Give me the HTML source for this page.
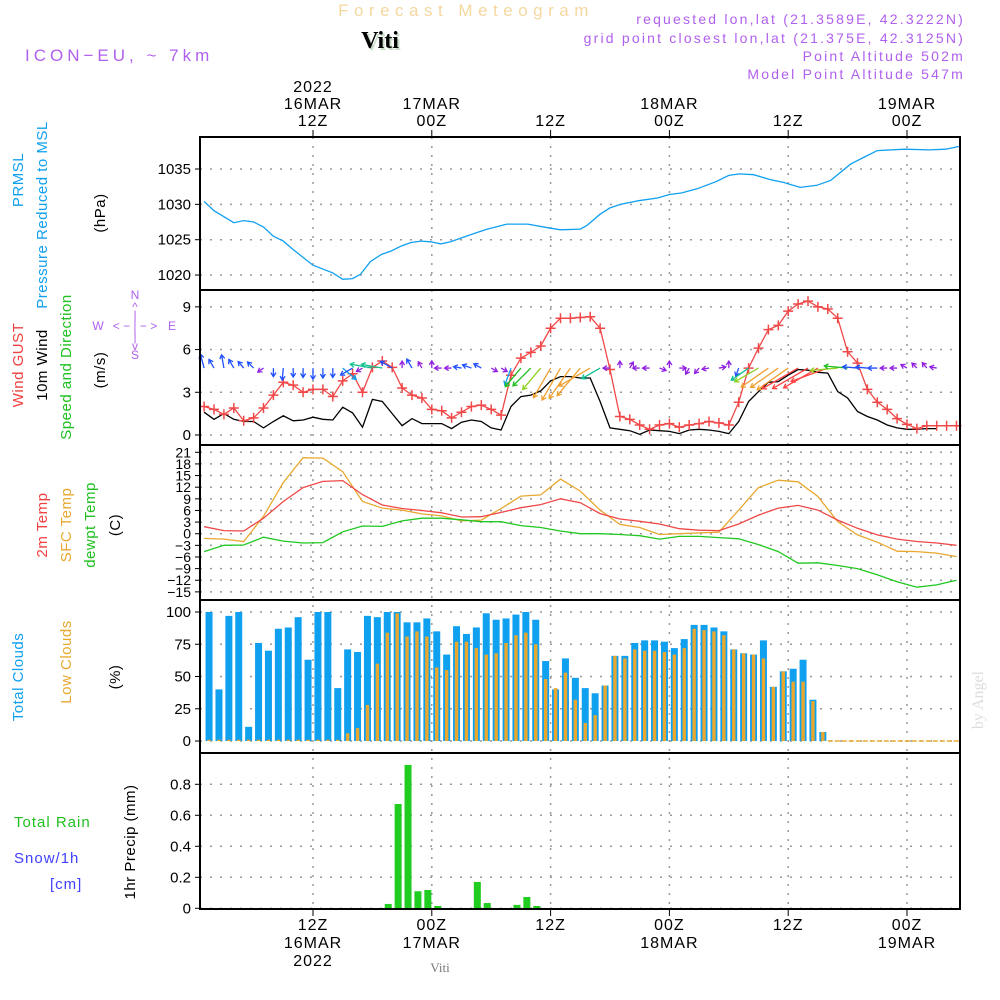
<!DOCTYPE html>
<html><head><meta charset="utf-8"><style>
html,body{margin:0;padding:0;background:#fff;}
svg{display:block;font-family:"Liberation Sans",sans-serif;}
</style></head><body>
<svg id="chart" width="1000" height="1000" viewBox="0 0 1000 1000" xmlns="http://www.w3.org/2000/svg">
<g id="grid"></g>
<g id="marks"></g>
<g id="frames"></g>
<g id="labels">
<text x="466" y="16" text-anchor="middle" font-size="17" fill="#f5d7a0" letter-spacing="5.5">Forecast Meteogram</text>
<text x="382" y="50" text-anchor="middle" font-size="24" font-weight="bold" font-family="Liberation Serif,serif" fill="#c8dcc8">Viti</text>
<text x="380" y="48" text-anchor="middle" font-size="24" font-weight="bold" font-family="Liberation Serif,serif" fill="#000">Viti</text>
<text x="25" y="61" font-size="17" fill="#b060ee" letter-spacing="4">ICON−EU, ~ 7km</text>
<g font-size="14" fill="#b060ee" text-anchor="end" letter-spacing="2.2">
<text x="965" y="24">requested lon,lat (21.3589E, 42.3222N)</text>
<text x="965" y="43">grid point closest lon,lat (21.375E, 42.3125N)</text>
<text x="965" y="61">Point Altitude 502m</text>
<text x="965" y="79">Model Point Altitude 547m</text>
</g>
<text x="440" y="972" text-anchor="middle" font-size="13" font-family="Liberation Serif,serif" fill="#777">Viti</text>
<text transform="translate(983,700) rotate(-90)" text-anchor="middle" font-size="16" font-family="Liberation Serif,serif" fill="#ddd">by Angel</text>
<g font-size="15" letter-spacing="0.5">
<text transform="translate(23,180) rotate(-90)" text-anchor="middle" fill="#10a0f0">PRMSL</text>
<text transform="translate(47,215) rotate(-90)" text-anchor="middle" fill="#10a0f0">Pressure Reduced to MSL</text>
<text transform="translate(105,213) rotate(-90)" text-anchor="middle" fill="#000">(hPa)</text>
<text transform="translate(23,365) rotate(-90)" text-anchor="middle" fill="#f04040">Wind GUST</text>
<text transform="translate(47,365) rotate(-90)" text-anchor="middle" fill="#000">10m Wind</text>
<text transform="translate(71,367) rotate(-90)" text-anchor="middle" fill="#20c020">Speed and Direction</text>
<text transform="translate(105,370) rotate(-90)" text-anchor="middle" fill="#000">(m/s)</text>
<text transform="translate(47,525) rotate(-90)" text-anchor="middle" fill="#f04040">2m Temp</text>
<text transform="translate(71,525) rotate(-90)" text-anchor="middle" fill="#e8a830">SFC Temp</text>
<text transform="translate(95,525) rotate(-90)" text-anchor="middle" fill="#20c020">dewpt Temp</text>
<text transform="translate(120,525) rotate(-90)" text-anchor="middle" fill="#000">(C)</text>
<text transform="translate(23,677) rotate(-90)" text-anchor="middle" fill="#10a0f0">Total Clouds</text>
<text transform="translate(71,662) rotate(-90)" text-anchor="middle" fill="#e8a830">Low Clouds</text>
<text transform="translate(120,677) rotate(-90)" text-anchor="middle" fill="#000">(%)</text>
<text transform="translate(135,842) rotate(-90)" text-anchor="middle" fill="#000">1hr Precip (mm)</text>
<text x="14" y="827" fill="#20c020" letter-spacing="1">Total  Rain</text>
<text x="14" y="863" fill="#4040ff" letter-spacing="1">Snow/1h</text>
<text x="50" y="889" fill="#4040ff" letter-spacing="1">[cm]</text>
</g>
<g fill="#b060ee" font-size="12" text-anchor="middle">
<text x="135" y="299">N</text><text x="135" y="311">^</text><text x="135" y="319">|</text>
<text x="98" y="330">W</text><text x="135" y="330">&lt; − | − &gt;</text><text x="172" y="330">E</text>
<text x="135" y="341">|</text><text x="135" y="350">v</text><text x="135" y="359">S</text>
</g>
</g>
</svg>
<script>
const hoursP=[1,2,4,5,6,7,8,9,10,12,14,15,16,16.8,17.8,18.9,19.9,20.9,21.9,22.9,23.9,24.9,25.9,26.9,27.9,29.6,31.6,33.7,35.7,37,39,39.65,41,42,43.1,44.8,46.8,48,49.2,50.8,52.7,54,55.1,56.5,58.2,59.5,61.2,62.9,64.3,66.3,67.7,69,71.8,74.2,75.9,77.3];
const pressure=[1030.4,1029.1,1027.4,1027.7,1027.5,1026.8,1025.5,1024.8,1023.6,1021.4,1020.3,1019.4,1019.5,1020.1,1021.9,1022.9,1023.4,1024.1,1024.6,1024.8,1024.7,1024.4,1024.7,1025.2,1025.7,1026.5,1027.2,1027.2,1026.7,1026.4,1026.5,1027,1028.6,1029.5,1030,1030.5,1030.9,1031.4,1031.6,1032.2,1033.2,1034.1,1034.3,1034.2,1033.5,1033.1,1032.4,1032.7,1033.4,1035.7,1036.7,1037.6,1037.8,1037.7,1037.8,1038.2];
const gust=[2.0,1.8,1.45,1.9,1.0,1.2,1.9,2.8,3.7,3.5,3.0,3.2,3.2,2.7,3.8,4.3,3.0,4.75,5.2,4.75,3.3,2.8,2.6,1.8,1.7,1.2,1.6,2.0,2.1,1.8,1.4,4.2,5.4,5.8,6.25,7.5,8.2,8.2,8.25,8.3,7.5,4.6,1.3,1.1,0.7,0.4,0.7,0.8,0.55,0.7,0.8,0.95,0.85,0.7,2.3,4.7,6.1,7.4,7.7,8.7,9.2,9.4,9.0,8.85,8.2,5.85,5.05,3.2,2.3,1.8,1.15,0.75,0.45,0.65,0.65,0.65,0.65];
const wind=[1.6,1.1,1.5,1.1,0.95,0.95,0.5,0.95,1.35,1.0,1.05,1.25,1.1,1.05,1.95,1.55,0.55,2.5,2.35,1.5,0.65,1.15,0.8,0.8,0.8,0.45,0.9,1.05,0.95,0.5,0.35,2.0,2.7,2.8,3.1,3.8,4.1,4.1,4.0,4.0,2.35,0.5,0.4,0.3,0.05,0.35,0.3,0.25,0.1,0.35,0.4,0.35,0.25,0.1,0.95,2.35,3.05,3.7,3.75,4.2,4.6,4.55,4.4,4.35,3.05,2.6,1.65,1.3,1.05,0.7,0.5,0.4,0.4,0.45,0.45];
const windDir=[345,330,350,330,320,315,235,180,185,180,180,180,180,180,130,240,240,280,280,300,0,330,330,0,270,270,280,290,300,120,120,200,220,225,220,210,210,215,220,240,240,270,0,30,270,270,110,0,90,210,220,260,80,0,200,235,240,235,235,235,240,240,240,250,265,275,275,275,270,270,270,300,315,320,280,280,280];
const hoursT=[1,3,5,7,9,11,13,15,17,19,21,23,25,27,29,31,33,35,37,39,41,43,45,47,49,51,53,55,57,59,61,63,65,67,69,71,73,75,77];
const temp2m=[1.8,0.8,0.7,4,8.3,11.9,13.5,13.7,10.1,7.4,6.5,6,5.4,4.3,4.4,5.5,6.7,7.5,9,8,5.2,3.8,3.2,2.5,1.3,0.9,0.8,2.5,4.8,6.6,7.3,6.1,3.5,1.4,-0.3,-1.4,-2,-2.4,-3];
const tempSfc=[-1.2,-1.4,-2,4.5,13.2,19.6,19.5,16,8.3,6.6,6.1,5.1,4.6,3.3,3.5,6.5,9.7,10,14.1,11,6.1,2.4,1.6,-0.2,0,0.2,0.4,6.1,11.9,13.8,13.4,9.6,3.1,-0.3,-2.2,-4.5,-4.6,-5,-5.9];
const dewpt=[-4.6,-3,-2.9,-0.9,-1.9,-2.4,-2.3,0.5,2,1.9,3.3,4,4,3.6,3.1,3.1,2.1,1.6,0.7,0,0,-0.2,-0.5,-1.4,-0.7,-0.7,-1,-1.3,-2.8,-4.6,-7.6,-7.5,-8.2,-9,-10.6,-12.4,-13.8,-13.2,-12];
const cloudTotal=[100,40,97,100,11,76,70,87,88,96,63,100,100,41,71,69,97,96,100,100,92,92,95,85,67,89,83,88,99,94,95,98,100,94,62,40,64,49,41,37,43,66,66,76,78,78,77,72,79,90,90,88,85,71,68,67,78,42,54,56,63,32,7];
const cloudLow=[1,1,1,1,1,1,1,1,1,1,1,1,1,1,6,10,28,60,84,99,81,85,81,57,55,77,77,72,67,68,76,82,84,75,48,41,53,32,14,20,43,66,64,71,70,70,69,67,72,87,86,85,82,71,68,67,64,42,54,46,46,31,7];
const precipHours=[19,20,21,22,23,24,28,29,32,33,34];
const precip=[0.028,0.673,0.925,0.11,0.118,0.015,0.17,0.034,0.022,0.073,0.015];
const pTicks=[1035,1030,1025,1020], wTicks=[9,6,3,0], tTicks=[21,18,15,12,9,6,3,0,-3,-6,-9,-12,-15], cTicks=[100,75,50,25,0], rTicks=[0.8,0.6,0.4,0.2,0];
const rTickLabels=['0.8','0.6','0.4','0.2','0'];
const timeTicks=[12,24,36,48,60,72];
const topLabels=[['2022','16MAR','12Z'],['17MAR','00Z'],['12Z'],['18MAR','00Z'],['12Z'],['19MAR','00Z']];
const botLabels=[['12Z','16MAR','2022'],['00Z','17MAR'],['12Z'],['00Z','18MAR'],['12Z'],['00Z','19MAR']];

const NS='http://www.w3.org/2000/svg';
const L=200,R=960;
const x=h=>194.2+9.9*h;
const yP=p=>169+(1035-p)*7.07;
const yW=v=>435-v*14.24;
const yT=t=>452.3+(21-t)*3.877;
const yC=c=>741-c*1.29;
const yR=r=>908.3-r*155;
const panels=[[137,290],[290,445],[445,600],[600,753],[753,909]];
function mk(tag,attrs,parent){const e=document.createElementNS(NS,tag);for(const k in attrs)e.setAttribute(k,attrs[k]);parent.appendChild(e);return e;}
const grid=document.getElementById('grid'),marks=document.getElementById('marks'),frames=document.getElementById('frames'),labels=document.getElementById('labels');
timeTicks.forEach(h=>{
 const l=mk('line',{x1:x(h),x2:x(h),y1:137,y2:909,stroke:'#999','stroke-dasharray':'2,7','stroke-width':1.5},grid);
 
 
 mk('line',{x1:x(h),x2:x(h),y1:130,y2:137,stroke:'#000'},frames);
 mk('line',{x1:x(h),x2:x(h),y1:909,y2:916,stroke:'#000'},frames);
});
function hgrid(ticks,fy,fmt,name,fs){
 ticks.forEach((t,i)=>{
  const l=mk('line',{x1:L,x2:R,y1:fy(t),y2:fy(t),stroke:'#999','stroke-dasharray':'2,8','stroke-width':1.5},grid);
  
  
  mk('line',{x1:L-5,x2:L,y1:fy(t),y2:fy(t),stroke:'#000'},frames);
  const tx=mk('text',{x:L-9,y:fy(t)+5,'text-anchor':'end','font-size':fs||15},labels);
  tx.textContent=fmt(t,i);
  
  
 });
}
hgrid(pTicks,yP,t=>t,'pressure');
hgrid(wTicks,yW,t=>t,'wind');
hgrid(tTicks,yT,t=>String(t).replace('-','−'),'temp',14);
hgrid(cTicks,yC,t=>t,'cloud');
hgrid(rTicks,yR,(t,i)=>rTickLabels[i],'precip');
panels.forEach(p=>{const r=mk('rect',{x:L,y:p[0],width:R-L,height:p[1]-p[0],fill:'none',stroke:'#000','stroke-width':2},frames);
 
 });
timeTicks.forEach((h,i)=>{
 const tl=topLabels[i];
 tl.forEach((s,j)=>{const t=mk('text',{x:x(h),y:126-(tl.length-1-j)*17,'text-anchor':'middle','font-size':16,'letter-spacing':1},labels);t.textContent=s;
  
  });
 botLabels[i].forEach((s,j)=>{const t=mk('text',{x:x(h),y:930+j*18,'text-anchor':'middle','font-size':16,'letter-spacing':1},labels);t.textContent=s;
  
  });
});
function line(hs,vs,fy,color,name){
 const d=hs.map((h,i)=>(i?'L':'M')+x(h).toFixed(1)+','+fy(vs[i]).toFixed(1)).join('');
 const p=mk('path',{d:d,fill:'none',stroke:color,'stroke-width':1.3},marks);
 
 
}
line(hoursP,pressure,yP,'#10a0f0','pressure-line');
const gh=gust.map((v,i)=>i+1), wh=wind.map((v,i)=>i+1);
line(wh,wind,yW,'#000','wind-speed-line');
line(gh,gust,yW,'#f04848','gust-line');
gust.forEach((v,i)=>{const cx=x(i+1),cy=yW(v);
 const g=mk('path',{d:`M${cx-5},${cy}h10M${cx},${cy-5}v10`,stroke:'#f04848','stroke-width':1.5},marks);
 
 });
function wcol(s){return s<0.9?'#9020e0':s<1.7?'#2050ff':s<2.2?'#10a0f0':s<2.6?'#10c090':s<3.0?'#20c020':s<3.4?'#90d020':s<4.3?'#f0a030':'#ff4040';}
windDir.forEach((dir,i)=>{
 const s=wind[i],len=Math.max(7,s*9),a=dir*Math.PI/180;
 const x0=x(i+1),y0=yW(4.7),x1=x0+len*Math.sin(a),y1=y0-len*Math.cos(a);
 const hx=Math.sin(a),hy=-Math.cos(a);
 const b1x=x1-4*hx+2.5*hy,b1y=y1-4*hy-2.5*hx,b2x=x1-4*hx-2.5*hy,b2y=y1-4*hy+2.5*hx;
 const p=mk('path',{d:`M${x0},${y0}L${x1},${y1}M${b1x},${b1y}L${x1},${y1}L${b2x},${b2y}`,stroke:wcol(s),'stroke-width':1.3,fill:'none'},marks);
 
 
});
line(hoursT,tempSfc,yT,'#e8a830','sfc-temp-line');
line(hoursT,temp2m,yT,'#f04848','t2m-line');
line(hoursT,dewpt,yT,'#20c820','dewpt-line');
cloudTotal.forEach((c,i)=>{const cx=x(i+1.5);
 const b=mk('rect',{x:cx-3.5,y:yC(c),width:7,height:yC(0)-yC(c),fill:'#10a0f0'},marks);
 
 
 const o=mk('rect',{x:cx-1.7,y:yC(cloudLow[i]),width:3.4,height:yC(0)-yC(cloudLow[i]),fill:'#e8a830'},marks);
 
 
});
const zl=mk('line',{x1:x(cloudTotal.length+1),x2:R,y1:yC(0),y2:yC(0),stroke:'#e8a830','stroke-width':1.5,'stroke-dasharray':'5,2'},marks);


precip.forEach((r,i)=>{const cx=x(precipHours[i]+0.6);
 const b=mk('rect',{x:cx-3.5,y:yR(r),width:7,height:yR(0)-yR(r),fill:'#20cc20'},marks);
 
 });
</script>
</body></html>
